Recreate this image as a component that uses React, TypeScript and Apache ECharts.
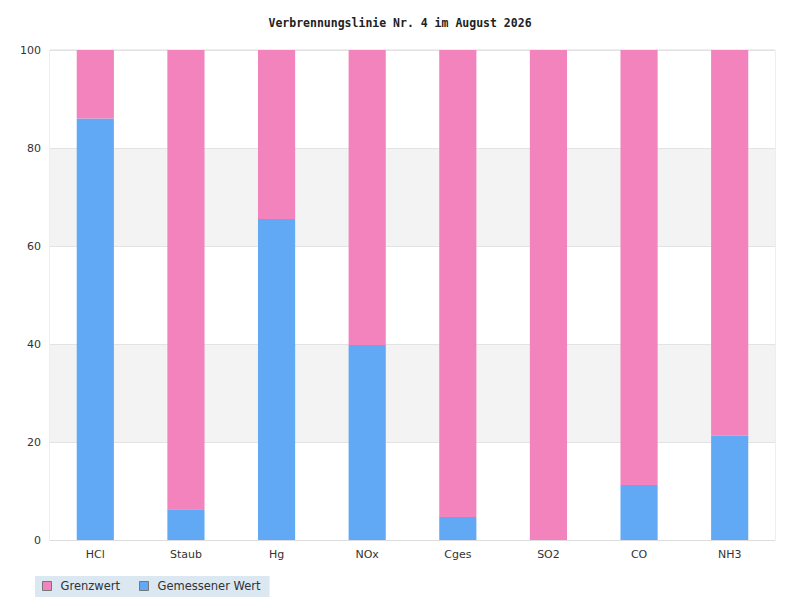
import React, { useEffect, useRef } from "react";
import * as echarts from "echarts";

const categories = ["HCl", "Staub", "Hg", "NOx", "Cges", "SO2", "CO", "NH3"];
const measured = [86, 6.3, 65.5, 39.8, 4.7, 0, 11.2, 21.3];
const limitRemainder = [14, 93.7, 34.5, 60.2, 95.3, 100, 88.8, 78.7];
const yTicks = [0, 20, 40, 60, 80, 100];

const PINK = "#f283bc";
const BLUE = "#61a9f5";

export default function App() {
  const ref = useRef<HTMLDivElement>(null);
  useEffect(() => {
    if (!ref.current) return;
    const chart = echarts.init(ref.current, undefined, { renderer: "svg" });
    chart.setOption({
      animation: false,
      backgroundColor: "#ffffff",
      title: {
        text: "Verbrennungslinie Nr. 4 im August 2026",
        left: "center",
        top: 12,
        textStyle: {
          fontFamily: "DejaVu Sans Mono",
          fontWeight: "bold",
          fontSize: 11.5,
          color: "#222",
        },
      },
      legend: {
        left: 35,
        top: 576,
        padding: [4, 9, 5, 7],
        itemGap: 19,
        itemWidth: 9,
        itemHeight: 9,
        backgroundColor: "#dbe7f1",
        icon: "rect",
        textStyle: {
          fontFamily: "DejaVu Sans",
          fontSize: 11.5,
          color: "#333",
          padding: [0, 0, 0, 4],
        },
        data: [
          { name: "Grenzwert", itemStyle: { borderColor: "#777", borderWidth: 1 } },
          { name: "Gemessener Wert", itemStyle: { borderColor: "#777", borderWidth: 1 } },
        ],
      },
      grid: {
        left: 50,
        right: 25,
        top: 50,
        bottom: 75,
        show: true,
        borderColor: "#dddddd",
        borderWidth: 1,
        backgroundColor: "transparent",
      },
      xAxis: {
        type: "category",
        data: categories,
        axisLine: { lineStyle: { color: "#dddddd" } },
        axisTick: { show: false },
        axisLabel: {
          fontFamily: "DejaVu Sans",
          fontSize: 11,
          color: "#333",
          margin: 9,
        },
      },
      yAxis: {
        type: "value",
        min: 0,
        max: 100,
        interval: 20,
        axisLine: { show: false },
        axisTick: { show: false },
        axisLabel: {
          fontFamily: "DejaVu Sans",
          fontSize: 11,
          color: "#333",
          margin: 9,
          formatter: (v: number) => (yTicks.includes(v) ? String(v) : ""),
        },
        splitLine: { lineStyle: { color: "#e3e3e3" } },
        splitArea: { show: true, areaStyle: { color: ["#ffffff", "#f3f3f3"] } },
      },
      series: [
        {
          name: "Gemessener Wert",
          type: "bar",
          stack: "total",
          data: measured,
          barWidth: "41%",
          itemStyle: { color: BLUE },
        },
        {
          name: "Grenzwert",
          type: "bar",
          stack: "total",
          data: limitRemainder,
          barWidth: "41%",
          itemStyle: { color: PINK },
        },
      ],
    });
    return () => chart.dispose();
  }, []);
  return <div ref={ref} style={{ width: 800, height: 615, margin: -8 }} />;
}
